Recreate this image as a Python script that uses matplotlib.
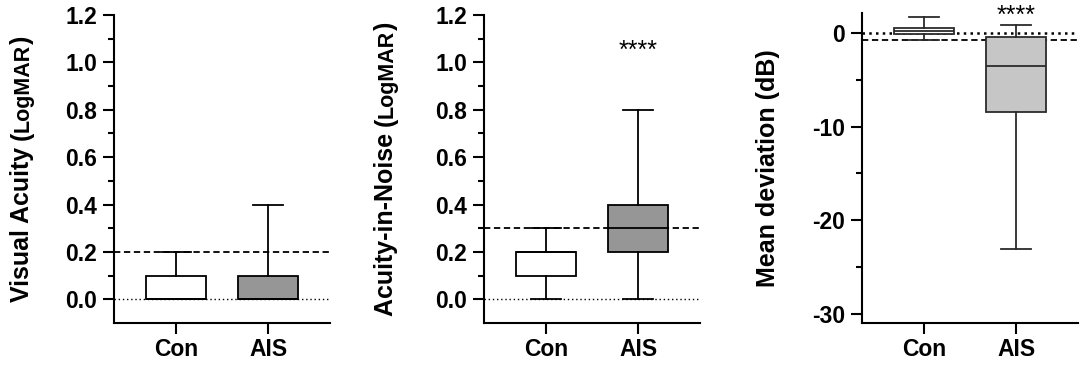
import matplotlib
matplotlib.use('Agg')
import matplotlib.pyplot as plt
from matplotlib.ticker import MultipleLocator, FixedLocator, FormatStrFormatter

plt.rcParams['font.family'] = ['Liberation Sans', 'DejaVu Sans']
plt.rcParams['axes.unicode_minus'] = False

groups = ['Con', 'AIS']

# Visual acuity (LogMAR)
va_low = [0.0, 0.0]
va_q1 = [0.0, 0.0]
va_med = [0.0, 0.0]
va_q3 = [0.1, 0.1]
va_high = [0.2, 0.4]

# Acuity-in-noise (LogMAR)
ain_low = [0.0, 0.0]
ain_q1 = [0.1, 0.2]
ain_med = [0.2, 0.3]
ain_q3 = [0.2, 0.4]
ain_high = [0.3, 0.8]

# Mean deviation (dB)
md_low = [-0.8, -23.1]
md_q1 = [-0.1, -8.4]
md_med = [0.25, -3.5]
md_q3 = [0.5, -0.45]
md_high = [1.7, 0.9]

va_ref = [0.0, 0.2]      # dotted, dashed
ain_ref = [0.0, 0.3]
md_ref = [0.0, -0.8]

logmar_minor = [0.1, 0.3, 0.5, 0.7, 0.9, 1.1]
md_minor = [-5, -15, -25]

W, H = 1084, 367
fig = plt.figure(figsize=(W / 100, H / 100), dpi=100)


def make_stats(low, q1, med, q3, high):
    return [dict(whislo=low[i], q1=q1[i], med=med[i], q3=q3[i], whishi=high[i],
                 fliers=[], label=groups[i]) for i in range(len(groups))]


def draw_panel(rect, stats, fills, line_col, ylim, major, minor, fmt, refs, dot_style):
    ax = fig.add_axes(rect)
    bp = ax.bxp(stats, positions=[1, 2], widths=0.65, capwidths=0.33,
                patch_artist=True, showfliers=False,
                boxprops=dict(edgecolor=line_col, linewidth=1.3),
                whiskerprops=dict(color=line_col, linewidth=1.3),
                capprops=dict(color=line_col, linewidth=1.3),
                medianprops=dict(color=line_col, linewidth=1.3))
    for patch, c in zip(bp['boxes'], fills):
        patch.set_facecolor(c)
        patch.set_zorder(3)
    for k in ['whiskers', 'caps', 'medians']:
        for ln in bp[k]:
            ln.set_zorder(4)
    ax.axhline(refs[0], color='black', zorder=1, **dot_style)
    ax.axhline(refs[1], color='black', linewidth=1.3, linestyle=(0, (3.5, 2)), zorder=1)
    ax.set_xlim(0.326, 2.673)
    ax.set_ylim(*ylim)
    ax.yaxis.set_major_locator(MultipleLocator(major))
    ax.yaxis.set_minor_locator(FixedLocator(minor))
    ax.yaxis.set_major_formatter(FormatStrFormatter(fmt))
    for s in ['top', 'right']:
        ax.spines[s].set_visible(False)
    for s in ['left', 'bottom']:
        ax.spines[s].set_linewidth(1.5)
    ax.tick_params(axis='both', which='major', direction='out', length=8, width=1.5,
                   labelsize=16.5, pad=4)
    ax.tick_params(axis='x', which='major', pad=3)
    ax.tick_params(axis='y', which='minor', direction='out', length=4, width=1.5)
    for lab in ax.get_xticklabels() + ax.get_yticklabels():
        lab.set_fontweight('bold')
    return ax


small_dots = dict(linewidth=1.0, linestyle=(0, (1, 2)))
big_dots = dict(linewidth=1.8, linestyle=(0, (1, 1.7)))

ax1 = draw_panel([114 / W, 1 - 323 / H, 216 / W, 308 / H],
                 make_stats(va_low, va_q1, va_med, va_q3, va_high),
                 ['white', '#969696'], 'black', (-0.1, 1.2), 0.2, logmar_minor, '%.1f',
                 va_ref, small_dots)
ax2 = draw_panel([484 / W, 1 - 323 / H, 216 / W, 308 / H],
                 make_stats(ain_low, ain_q1, ain_med, ain_q3, ain_high),
                 ['white', '#969696'], 'black', (-0.1, 1.2), 0.2, logmar_minor, '%.1f',
                 ain_ref, small_dots)
ax3 = draw_panel([862 / W, 1 - 323 / H, 216 / W, 309.7 / H],
                 make_stats(md_low, md_q1, md_med, md_q3, md_high),
                 ['white', '#c6c6c6'], '#2b2b2b', (-31, 2.1), 10, md_minor, '%d',
                 md_ref, big_dots)

ax2.text(2, 1.05, '****', ha='center', va='center', fontsize=18)
ax3.text(2, 1.8, '****', ha='center', va='center', fontsize=18, clip_on=False)

# y labels built from pieces so "LogMAR" can be smaller than the rest
renderer = fig.canvas.get_renderer()


def composite_ylabel(ax, parts, x_px):
    bbox = ax.get_position()
    yc = (1 - (bbox.y0 + bbox.y1) / 2) * H
    texts = []
    for s, size in parts:
        t = fig.text(0, 0, s, rotation=90, rotation_mode='anchor', ha='left',
                     va='baseline', fontsize=size, fontweight='bold')
        texts.append(t)
    lengths = [t.get_window_extent(renderer).height for t in texts]
    y = yc + sum(lengths) / 2
    for t, L in zip(texts, lengths):
        t.set_position((x_px / W, 1 - y / H))
        y -= L


composite_ylabel(ax1, [('Visual Acuity ', 18), ('(', 18), ('LogMAR', 15.5), (')', 18)], 29)
composite_ylabel(ax2, [('Acuity-in-Noise ', 18), ('(', 18), ('LogMAR', 15.5), (')', 18)], 393)
composite_ylabel(ax3, [('Mean deviation (dB)', 18)], 775)

plt.savefig('out.png', dpi=100)
